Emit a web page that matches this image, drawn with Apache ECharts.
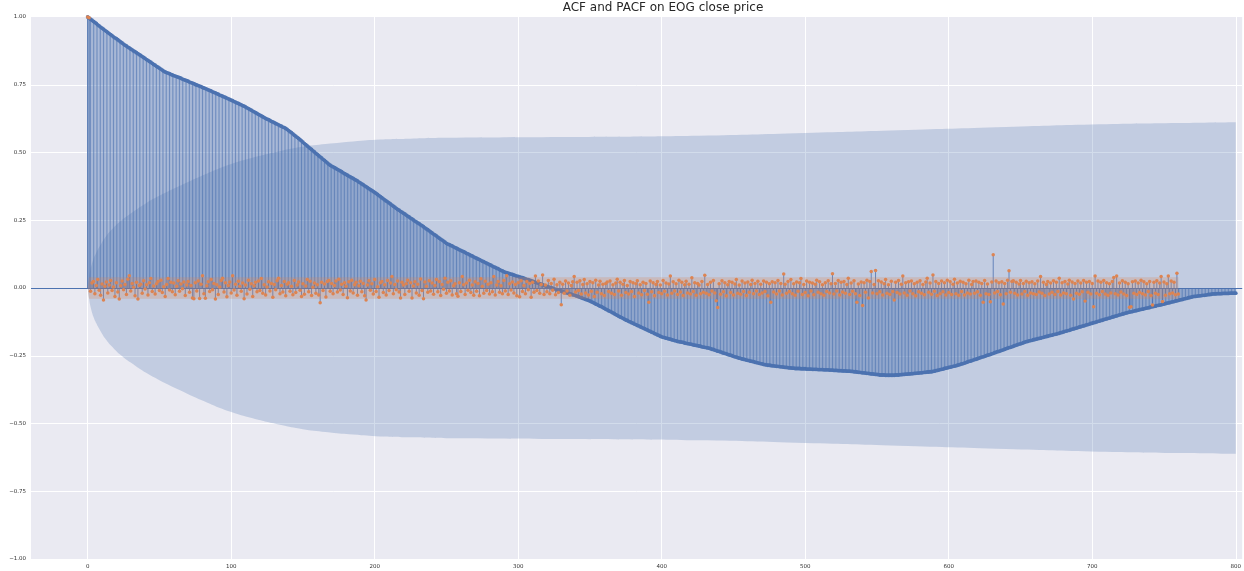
<!DOCTYPE html>
<html>
<head>
<meta charset="utf-8">
<script src="https://cdn.jsdelivr.net/npm/echarts@6/dist/echarts.min.js"></script>
<style>
html,body{margin:0;padding:0;background:#fff}
#main{width:1244px;height:571px}
</style>
</head>
<body>
<div id="main"></div>
<script>
// acf, lags 0..800
var acfValues=[
1.000,0.996,0.992,0.988,0.984,0.980,0.976,0.971,0.967,0.963,
0.959,0.955,0.951,0.947,0.943,0.939,0.935,0.931,0.927,0.923,
0.920,0.916,0.912,0.908,0.904,0.900,0.896,0.893,0.889,0.886,
0.882,0.879,0.875,0.872,0.868,0.865,0.861,0.858,0.854,0.851,
0.847,0.843,0.840,0.836,0.833,0.829,0.825,0.822,0.818,0.815,
0.811,0.808,0.804,0.800,0.797,0.795,0.793,0.791,0.788,0.786,
0.784,0.782,0.780,0.778,0.776,0.774,0.771,0.769,0.767,0.765,
0.763,0.760,0.758,0.756,0.754,0.751,0.749,0.747,0.745,0.743,
0.740,0.738,0.736,0.734,0.731,0.729,0.727,0.724,0.722,0.720,
0.717,0.715,0.712,0.710,0.708,0.705,0.703,0.701,0.698,0.696,
0.693,0.691,0.688,0.686,0.683,0.681,0.678,0.676,0.673,0.671,
0.668,0.665,0.662,0.659,0.656,0.653,0.650,0.647,0.644,0.641,
0.638,0.635,0.632,0.629,0.626,0.623,0.621,0.618,0.615,0.613,
0.610,0.607,0.605,0.602,0.599,0.597,0.594,0.592,0.589,0.585,
0.581,0.577,0.573,0.569,0.564,0.560,0.556,0.552,0.547,0.543,
0.538,0.533,0.529,0.524,0.520,0.515,0.511,0.506,0.502,0.497,
0.493,0.488,0.484,0.480,0.475,0.471,0.466,0.462,0.457,0.453,
0.450,0.447,0.444,0.441,0.438,0.435,0.432,0.429,0.425,0.422,
0.419,0.416,0.413,0.410,0.407,0.404,0.401,0.398,0.395,0.391,
0.388,0.384,0.381,0.377,0.374,0.370,0.367,0.363,0.360,0.356,
0.353,0.349,0.345,0.341,0.337,0.333,0.329,0.325,0.321,0.318,
0.314,0.310,0.306,0.302,0.298,0.294,0.290,0.287,0.283,0.280,
0.276,0.273,0.269,0.265,0.262,0.258,0.255,0.251,0.247,0.244,
0.240,0.237,0.233,0.230,0.226,0.222,0.218,0.215,0.211,0.207,
0.203,0.199,0.196,0.192,0.188,0.184,0.180,0.177,0.173,0.169,
0.165,0.162,0.160,0.157,0.155,0.152,0.149,0.147,0.144,0.141,
0.139,0.136,0.134,0.131,0.128,0.126,0.123,0.120,0.118,0.115,
0.112,0.110,0.107,0.105,0.102,0.099,0.097,0.094,0.092,0.089,
0.086,0.084,0.081,0.078,0.076,0.073,0.071,0.068,0.065,0.063,
0.060,0.058,0.057,0.055,0.053,0.051,0.050,0.048,0.046,0.044,
0.043,0.041,0.039,0.038,0.036,0.034,0.032,0.031,0.029,0.027,
0.025,0.023,0.021,0.019,0.018,0.016,0.014,0.012,0.010,0.008,
0.006,0.004,0.002,0.001,-0.001,-0.003,-0.005,-0.007,-0.009,-0.010,
-0.012,-0.013,-0.015,-0.017,-0.018,-0.020,-0.022,-0.023,-0.025,-0.026,
-0.028,-0.030,-0.032,-0.034,-0.036,-0.038,-0.040,-0.042,-0.044,-0.046,
-0.048,-0.051,-0.053,-0.056,-0.059,-0.061,-0.064,-0.067,-0.069,-0.072,
-0.075,-0.078,-0.081,-0.084,-0.086,-0.089,-0.092,-0.095,-0.098,-0.101,
-0.104,-0.107,-0.109,-0.112,-0.115,-0.118,-0.120,-0.123,-0.125,-0.128,
-0.130,-0.133,-0.135,-0.138,-0.140,-0.143,-0.145,-0.148,-0.150,-0.153,
-0.155,-0.158,-0.160,-0.163,-0.165,-0.168,-0.170,-0.173,-0.175,-0.178,
-0.180,-0.182,-0.183,-0.185,-0.186,-0.188,-0.189,-0.191,-0.192,-0.194,
-0.195,-0.197,-0.198,-0.199,-0.200,-0.201,-0.203,-0.204,-0.205,-0.206,
-0.207,-0.208,-0.210,-0.211,-0.212,-0.213,-0.214,-0.215,-0.217,-0.218,
-0.219,-0.220,-0.221,-0.222,-0.224,-0.226,-0.227,-0.229,-0.231,-0.233,
-0.234,-0.236,-0.238,-0.240,-0.241,-0.243,-0.245,-0.247,-0.248,-0.250,
-0.252,-0.254,-0.255,-0.257,-0.259,-0.260,-0.262,-0.263,-0.264,-0.266,
-0.267,-0.268,-0.270,-0.271,-0.272,-0.274,-0.275,-0.276,-0.278,-0.279,
-0.280,-0.282,-0.283,-0.284,-0.285,-0.285,-0.286,-0.287,-0.287,-0.288,
-0.289,-0.289,-0.290,-0.291,-0.291,-0.292,-0.293,-0.293,-0.294,-0.295,
-0.295,-0.296,-0.296,-0.297,-0.297,-0.297,-0.297,-0.298,-0.298,-0.298,
-0.298,-0.299,-0.299,-0.299,-0.299,-0.300,-0.300,-0.300,-0.300,-0.301,
-0.301,-0.301,-0.301,-0.302,-0.302,-0.302,-0.302,-0.303,-0.303,-0.303,
-0.304,-0.304,-0.304,-0.305,-0.305,-0.305,-0.306,-0.306,-0.306,-0.307,
-0.307,-0.307,-0.308,-0.308,-0.309,-0.309,-0.310,-0.311,-0.311,-0.312,
-0.313,-0.313,-0.314,-0.315,-0.315,-0.316,-0.317,-0.317,-0.318,-0.319,
-0.319,-0.320,-0.321,-0.321,-0.321,-0.321,-0.322,-0.322,-0.322,-0.322,
-0.322,-0.322,-0.322,-0.321,-0.321,-0.321,-0.320,-0.320,-0.319,-0.319,
-0.318,-0.318,-0.317,-0.317,-0.316,-0.316,-0.315,-0.315,-0.314,-0.314,
-0.313,-0.313,-0.312,-0.311,-0.311,-0.310,-0.310,-0.309,-0.309,-0.308,
-0.307,-0.305,-0.304,-0.303,-0.301,-0.300,-0.299,-0.297,-0.296,-0.295,
-0.293,-0.292,-0.291,-0.289,-0.288,-0.287,-0.285,-0.284,-0.282,-0.280,
-0.279,-0.277,-0.275,-0.273,-0.271,-0.270,-0.268,-0.266,-0.264,-0.263,
-0.261,-0.259,-0.257,-0.255,-0.254,-0.252,-0.250,-0.248,-0.247,-0.245,
-0.243,-0.241,-0.239,-0.237,-0.235,-0.234,-0.232,-0.230,-0.228,-0.226,
-0.224,-0.222,-0.220,-0.219,-0.217,-0.215,-0.213,-0.211,-0.209,-0.207,
-0.206,-0.204,-0.202,-0.200,-0.198,-0.197,-0.195,-0.194,-0.193,-0.191,
-0.190,-0.189,-0.187,-0.186,-0.185,-0.183,-0.182,-0.180,-0.179,-0.178,
-0.176,-0.175,-0.174,-0.172,-0.171,-0.170,-0.168,-0.167,-0.165,-0.164,
-0.162,-0.160,-0.159,-0.157,-0.156,-0.154,-0.152,-0.151,-0.149,-0.148,
-0.146,-0.144,-0.143,-0.141,-0.140,-0.138,-0.136,-0.135,-0.133,-0.131,
-0.130,-0.128,-0.127,-0.125,-0.123,-0.122,-0.120,-0.119,-0.117,-0.115,
-0.114,-0.112,-0.111,-0.109,-0.107,-0.106,-0.104,-0.103,-0.101,-0.099,
-0.098,-0.096,-0.095,-0.093,-0.092,-0.090,-0.089,-0.088,-0.087,-0.085,
-0.084,-0.083,-0.082,-0.080,-0.079,-0.078,-0.077,-0.075,-0.074,-0.073,
-0.072,-0.070,-0.069,-0.068,-0.067,-0.065,-0.064,-0.063,-0.062,-0.060,
-0.059,-0.058,-0.056,-0.055,-0.054,-0.052,-0.051,-0.050,-0.048,-0.047,
-0.046,-0.044,-0.043,-0.042,-0.040,-0.039,-0.038,-0.036,-0.035,-0.034,
-0.032,-0.031,-0.031,-0.030,-0.029,-0.029,-0.028,-0.027,-0.027,-0.026,
-0.025,-0.024,-0.024,-0.023,-0.022,-0.022,-0.022,-0.021,-0.021,-0.021,
-0.021,-0.020,-0.020,-0.020,-0.020,-0.020,-0.019,-0.019,-0.019,-0.019,
-0.019
];

// pacf, lags 0..760
var pacfValues=[
1.000,0.997,-0.012,0.018,0.024,-0.021,0.009,0.031,-0.008,-0.027,
0.015,-0.044,0.006,0.022,-0.018,0.011,0.028,-0.009,0.004,-0.031,
0.019,-0.015,-0.041,0.008,0.026,-0.006,0.013,-0.024,0.032,0.045,
-0.011,0.017,0.003,-0.029,0.021,-0.041,0.009,0.014,-0.019,0.027,
-0.004,0.012,-0.026,0.019,0.035,-0.013,0.007,-0.022,0.016,0.024,
-0.009,0.029,-0.017,0.005,-0.031,0.013,0.035,-0.007,0.021,-0.014,
0.018,-0.025,0.006,0.027,-0.012,0.015,-0.003,0.022,-0.028,0.011,
0.024,-0.016,0.009,-0.037,-0.040,0.019,-0.011,0.026,-0.039,0.014,
0.045,-0.021,-0.038,0.008,0.023,-0.013,0.031,-0.006,0.017,-0.041,
0.012,-0.024,0.004,0.028,0.036,-0.015,0.019,-0.032,0.009,0.022,
-0.018,0.045,-0.007,0.014,-0.027,0.025,0.006,-0.012,0.018,-0.040,
0.011,-0.022,0.029,-0.005,0.016,-0.031,0.008,0.021,-0.014,0.026,
-0.009,0.035,-0.019,0.012,-0.026,0.004,0.023,-0.011,0.017,-0.034,
0.013,-0.006,0.027,0.036,-0.021,0.009,-0.015,0.024,-0.029,0.014,
0.019,-0.012,0.006,-0.025,0.028,-0.017,0.011,0.022,-0.008,-0.031,
0.016,-0.023,0.007,0.031,-0.014,0.025,-0.028,0.003,0.018,-0.019,
0.012,-0.026,-0.054,0.021,-0.009,0.015,-0.033,0.024,0.028,-0.012,
0.017,-0.021,0.009,0.026,-0.015,0.032,-0.007,0.014,-0.024,0.019,
0.006,-0.036,0.023,-0.011,0.029,-0.018,0.012,0.021,-0.027,0.008,
0.025,-0.014,0.017,-0.029,-0.044,0.011,0.027,-0.008,0.016,-0.022,
0.031,-0.013,0.005,-0.034,0.019,0.024,-0.017,0.012,-0.026,0.028,
-0.009,0.018,0.042,-0.021,0.013,-0.006,0.026,-0.015,-0.037,0.021,
0.011,-0.024,0.016,0.029,-0.012,0.019,-0.037,0.007,0.023,-0.018,
0.014,-0.027,0.033,-0.009,-0.040,0.022,0.006,-0.016,0.027,-0.011,
0.018,-0.023,0.009,0.031,-0.014,0.024,-0.028,0.013,-0.005,0.036,
-0.019,0.021,-0.011,0.027,-0.026,0.008,0.016,-0.021,-0.030,0.019,
-0.013,0.042,0.012,-0.024,0.018,-0.008,0.029,-0.017,0.011,-0.027,
0.023,-0.012,0.017,-0.029,0.034,0.006,-0.019,0.025,-0.009,0.014,
-0.022,0.019,-0.014,0.042,-0.026,0.011,0.024,-0.016,0.008,-0.021,
0.028,-0.011,0.045,-0.024,0.016,-0.007,0.022,-0.018,0.013,-0.029,
0.019,-0.032,0.027,-0.013,0.009,-0.021,0.024,-0.006,0.017,-0.034,
0.021,-0.016,0.044,-0.009,0.026,-0.019,0.013,0.048,-0.024,0.011,
-0.014,0.028,-0.021,0.017,-0.008,0.032,-0.025,0.012,-0.017,0.021,
-0.062,0.014,-0.019,0.026,-0.011,0.018,-0.027,0.009,0.023,0.042,
-0.015,0.021,-0.009,0.027,-0.022,0.013,0.031,-0.018,0.016,-0.026,
0.024,-0.012,0.019,-0.031,0.029,-0.016,0.011,0.025,-0.021,0.014,
-0.028,0.017,0.022,-0.013,0.026,-0.019,0.012,-0.024,0.018,0.032,
-0.011,0.021,-0.027,0.014,0.028,-0.017,0.009,-0.022,0.024,-0.013,
0.019,-0.031,0.016,0.027,-0.018,0.012,-0.025,0.021,-0.009,0.017,
-0.023,-0.053,0.026,-0.014,0.019,-0.029,0.013,0.024,-0.017,0.011,
-0.021,0.028,-0.012,0.018,-0.026,0.015,0.044,-0.019,0.023,-0.011,
0.016,-0.024,0.029,-0.015,0.021,-0.028,0.012,0.025,-0.018,0.014,
-0.022,0.038,-0.013,0.019,-0.027,0.017,0.011,-0.021,0.024,-0.016,
0.047,-0.019,0.013,-0.025,0.021,-0.011,0.028,-0.018,-0.047,-0.072,
0.016,-0.023,0.027,-0.014,0.019,-0.029,0.012,0.024,-0.017,0.021,
-0.026,0.015,0.031,-0.019,0.011,-0.023,0.026,-0.013,0.018,-0.028,
0.022,-0.016,0.013,0.029,-0.021,0.017,-0.011,0.025,-0.024,0.014,
-0.018,0.026,-0.013,0.021,-0.029,0.016,-0.053,0.023,-0.015,0.019,
-0.022,0.028,-0.011,0.017,-0.026,0.052,0.014,-0.019,0.024,-0.013,
0.031,-0.021,0.016,-0.027,0.022,-0.012,0.019,0.035,-0.024,0.013,
-0.017,0.026,-0.029,0.021,-0.011,0.018,-0.025,0.014,0.029,-0.016,
0.023,-0.021,0.012,-0.027,0.019,-0.013,0.027,-0.018,0.016,0.053,
-0.022,0.017,-0.011,0.028,-0.026,0.021,-0.015,0.024,-0.019,0.013,
0.036,-0.024,0.018,-0.012,0.027,-0.021,-0.053,0.015,-0.028,0.022,
-0.065,0.019,-0.016,0.029,-0.037,0.024,0.061,-0.018,0.013,0.065,
-0.021,0.027,-0.014,0.022,-0.026,0.016,0.031,-0.019,0.012,-0.024,
0.025,-0.013,-0.044,0.021,-0.017,0.028,-0.022,0.014,0.044,-0.018,
0.019,-0.027,0.023,-0.011,0.026,-0.021,0.016,-0.029,0.021,-0.014,
0.027,-0.019,0.013,-0.025,0.022,0.036,-0.016,0.018,-0.023,0.048,
-0.012,0.024,-0.028,0.017,-0.021,0.026,-0.014,0.019,-0.026,0.029,
-0.017,0.023,-0.024,0.014,0.032,-0.021,0.018,-0.027,0.025,-0.013,
0.021,-0.026,0.016,-0.018,0.029,-0.022,0.013,0.024,-0.019,0.026,
-0.014,0.021,-0.027,0.017,-0.053,0.028,-0.021,0.015,-0.024,-0.051,
0.022,0.123,-0.018,0.026,-0.013,0.019,-0.025,0.023,-0.059,0.017,
-0.021,0.029,0.064,-0.016,0.024,0.027,-0.019,0.021,-0.026,0.015,
0.028,-0.022,0.017,-0.013,0.025,-0.027,0.019,-0.018,0.023,-0.021,
0.016,-0.024,0.026,-0.015,0.042,-0.019,0.021,-0.028,0.013,0.024,
-0.022,0.018,-0.016,0.027,-0.024,0.021,-0.013,0.036,-0.026,0.019,
-0.018,0.024,-0.021,0.015,0.029,-0.027,0.022,-0.041,0.017,-0.019,
0.026,-0.023,0.018,-0.014,0.028,-0.048,0.021,-0.016,0.024,-0.022,
0.017,-0.069,0.044,-0.019,0.026,-0.025,0.021,-0.013,0.028,-0.022,
0.019,-0.027,0.016,-0.018,0.024,0.039,-0.021,0.044,-0.026,0.018,
-0.015,0.027,-0.022,0.021,-0.028,0.016,-0.071,-0.069,0.023,-0.019,
0.026,-0.024,0.018,-0.017,0.029,-0.021,0.023,-0.026,0.016,-0.013,
0.024,-0.028,-0.063,0.021,-0.019,0.027,-0.024,0.018,0.042,-0.050,
0.022,-0.027,0.016,0.044,-0.021,0.026,-0.018,0.021,-0.025,0.054,
-0.022
];

// confidence bands (half widths)
var acfBandLags=[0,1,2,4,6,8,13,18,23,30,41,50,64,80,99,115,134,150,169,185,204,225,250,330,426,500,565,640,705,760,800];
var acfBandHalf=[0,0.040,0.069,0.106,0.130,0.150,0.192,0.222,0.247,0.275,0.314,0.340,0.376,0.415,0.456,0.481,0.505,0.521,0.533,0.541,0.548,0.551,0.554,0.557,0.562,0.572,0.582,0.594,0.604,0.609,0.612];
var pacfBandLags=[0,1,760];
var pacfBandHalf=[0,0.040,0.040];

var xTicks=[0,100,200,300,400,500,600,700,800];
var yTicks=[-1,-0.75,-0.5,-0.25,0,0.25,0.5,0.75,1];

var C0='#4C72B0',C1='#DD8452';

function pairs(lags,vals,sign){
  var out=[];
  for(var i=0;i<vals.length;i++) out.push([lags?lags[i]:i,sign*vals[i]]);
  return out;
}
var acfData=pairs(null,acfValues,1);
var pacfData=pairs(null,pacfValues,1);

function stem(params,api){
  var p0=api.coord([api.value(0),0]);
  var p1=api.coord([api.value(0),api.value(1)]);
  return {type:'line',shape:{x1:p0[0],y1:p0[1],x2:p1[0],y2:p1[1]},style:{stroke:C0,lineWidth:0.8}};
}
function band(lags,half,sign,color,z,smooth){
  return {type:'line',data:pairs(lags,half,sign),showSymbol:false,symbol:'none',smooth:smooth,
    lineStyle:{width:0},areaStyle:{color:color,opacity:1,origin:0},z:z,silent:true};
}
function fmtY(v){
  if(yTicks.indexOf(v)<0) return '';
  return (v<0?'\u2212':'')+Math.abs(v).toFixed(2);
}
function fmtX(v){
  return xTicks.indexOf(v)<0?'':String(v);
}

var myChart=echarts.init(document.getElementById('main'));
var labelStyle={fontFamily:'DejaVu Sans',fontSize:5.5,color:'#333'};

option={
  animation:false,
  backgroundColor:'#fff',
  title:{
    text:'ACF and PACF on EOG close price',
    left:663,top:2,textAlign:'center',padding:0,
    textStyle:{fontFamily:'DejaVu Sans',fontSize:12,fontWeight:'normal',color:'#262626'}
  },
  grid:{left:31,right:1,top:17,bottom:12,show:true,backgroundColor:'#EAEAF2',borderWidth:0},
  xAxis:{
    type:'value',min:-39.5,max:804.5,minInterval:100,maxInterval:100,
    axisLine:{show:false},axisTick:{show:false},
    splitLine:{show:true,showMinLine:false,showMaxLine:false,lineStyle:{color:'#fff',width:1}},
    axisLabel:Object.assign({formatter:fmtX,margin:5,showMinLabel:false,showMaxLabel:false},labelStyle)
  },
  yAxis:{
    type:'value',min:-1,max:1,interval:0.25,
    axisLine:{show:false},axisTick:{show:false},
    splitLine:{show:true,showMinLine:false,showMaxLine:false,lineStyle:{color:'#fff',width:1}},
    axisLabel:Object.assign({formatter:fmtY,margin:5},labelStyle)
  },
  series:[
    {type:'custom',name:'acf stems',renderItem:stem,data:acfData,encode:{x:0,y:1},z:2,silent:true},
    {type:'scatter',name:'acf',data:acfData,symbolSize:3.8,itemStyle:{color:C0,opacity:1},z:3,silent:true},
    band(acfBandLags,acfBandHalf,1,'rgba(76,114,176,0.25)',4,0.5),
    band(acfBandLags,acfBandHalf,-1,'rgba(76,114,176,0.25)',4,0.5),
    {type:'custom',name:'pacf stems',renderItem:stem,data:pacfData,encode:{x:0,y:1},z:5,silent:true,
      markLine:{silent:true,symbol:'none',label:{show:false},lineStyle:{color:C0,width:1,type:'solid'},data:[{yAxis:0}]}},
    {type:'scatter',name:'pacf',data:pacfData,symbolSize:3.5,itemStyle:{color:C1,opacity:1},z:6,silent:true},
    band(pacfBandLags,pacfBandHalf,1,'rgba(221,132,82,0.25)',7,false),
    band(pacfBandLags,pacfBandHalf,-1,'rgba(221,132,82,0.25)',7,false)
  ]
};

myChart.setOption(option);
</script>
</body>
</html>
